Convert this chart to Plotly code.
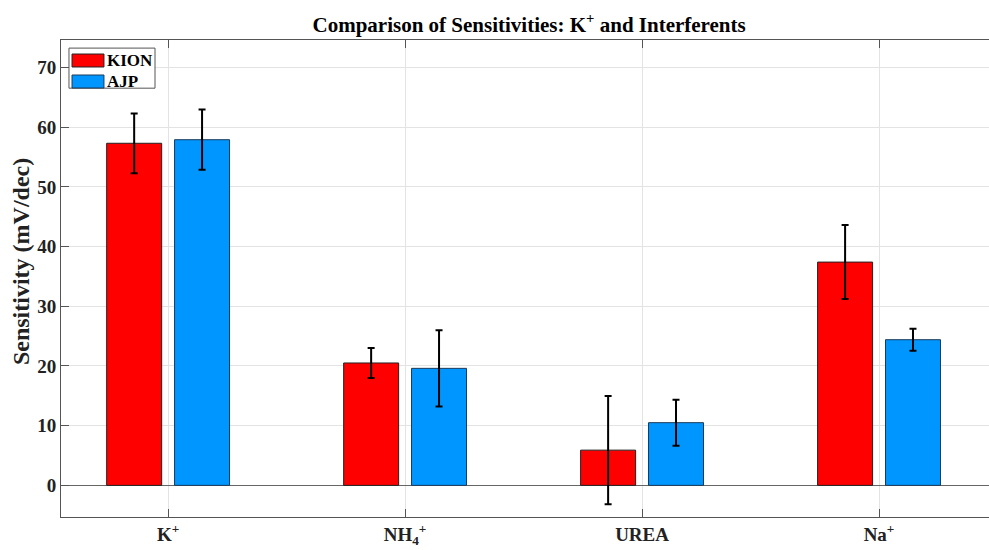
import plotly.graph_objects as go

categories = ["K<sup>+</sup>", "NH<sub>4</sub><sup>+</sup>", "UREA", "Na<sup>+</sup>"]
series_names = ["KION", "AJP"]
kion_vals = [57.3, 20.5, 5.9, 37.4]
kion_err = [5.0, 2.5, 9.05, 6.2]
ajp_vals = [57.9, 19.6, 10.5, 24.4]
ajp_err = [5.05, 6.4, 3.85, 1.85]
y_ticks = [0, 10, 20, 30, 40, 50, 60, 70]

FONT = "Liberation Serif"
RED = "#FF0000"
BLUE = "#0096FF"

fig = go.Figure()
fig.add_trace(go.Bar(
    name=series_names[0], x=categories, y=kion_vals,
    marker=dict(color=RED, line=dict(color="#222222", width=1)),
    error_y=dict(type="data", array=kion_err, color="black", thickness=2, width=3.5),
))
fig.add_trace(go.Bar(
    name=series_names[1], x=categories, y=ajp_vals,
    marker=dict(color=BLUE, line=dict(color="#1a3a5a", width=1)),
    error_y=dict(type="data", array=ajp_err, color="black", thickness=2, width=3.5),
))

# custom legend (box, colour patches, labels) in paper coordinates
shapes = [dict(type="rect", xref="paper", yref="paper", x0=0.0086, x1=0.1013, y0=0.899, y1=0.983,
               line=dict(color="#555555", width=1), fillcolor="white", layer="above")]
annotations = []
for i, (name, col, edge) in enumerate(zip(series_names, [RED, BLUE], ["#222222", "#1a3a5a"])):
    yc = 0.957 - i * 0.044
    shapes.append(dict(type="rect", xref="paper", yref="paper", x0=0.0119, x1=0.0463,
                       y0=yc - 0.0136, y1=yc + 0.0136, fillcolor=col,
                       line=dict(color=edge, width=1), layer="above"))
    annotations.append(dict(xref="paper", yref="paper", x=0.0478, y=yc, xanchor="left", yanchor="middle",
                            text=f"<b>{name}</b>", showarrow=False,
                            font=dict(size=17, family=FONT, color="black")))

# y-axis title placed as in the reference (slightly above the plot centre)
annotations.append(dict(xref="paper", yref="paper", x=-0.0428, y=0.535, xanchor="center", yanchor="middle",
                        textangle=-90, text="<b>Sensitivity (mV/dec)</b>", showarrow=False,
                        font=dict(size=24, family=FONT, color="#222222")))

fig.update_layout(
    width=989, height=550,
    margin=dict(l=61, r=0, t=40, b=33),
    paper_bgcolor="white", plot_bgcolor="white",
    barmode="group", bargap=0.427, bargroupgap=0.19,
    font=dict(family=FONT, color="#222222"),
    title=dict(text="<b>Comparison of Sensitivities: K<sup>+</sup> and Interferents</b>",
               x=0.535, xanchor="center", y=0.956, yanchor="middle",
               font=dict(size=21, family=FONT, color="black")),
    showlegend=False,
    shapes=shapes, annotations=annotations,
)
fig.update_xaxes(
    type="category", range=[-0.452, 3.464],
    showgrid=True, gridcolor="#e3e3e3", gridwidth=1,
    showline=True, linecolor="#555555", linewidth=1, mirror="ticks",
    ticks="inside", ticklen=8, tickcolor="#555555",
    tickfont=dict(size=19, family=FONT, color="#222222"),
    tickprefix="<b>", ticksuffix="</b>",
)
fig.update_yaxes(
    range=[-5.3, 74.6], tickvals=y_ticks,
    ticktext=[f"<b>{v}</b>" for v in y_ticks],
    showgrid=True, gridcolor="#e3e3e3", gridwidth=1,
    zeroline=True, zerolinecolor="#666666", zerolinewidth=1,
    showline=True, linecolor="#555555", linewidth=1,
    ticks="inside", ticklen=8, tickcolor="#555555",
    tickfont=dict(size=19, family=FONT, color="#222222"),
)

fig.write_html("out.html")
